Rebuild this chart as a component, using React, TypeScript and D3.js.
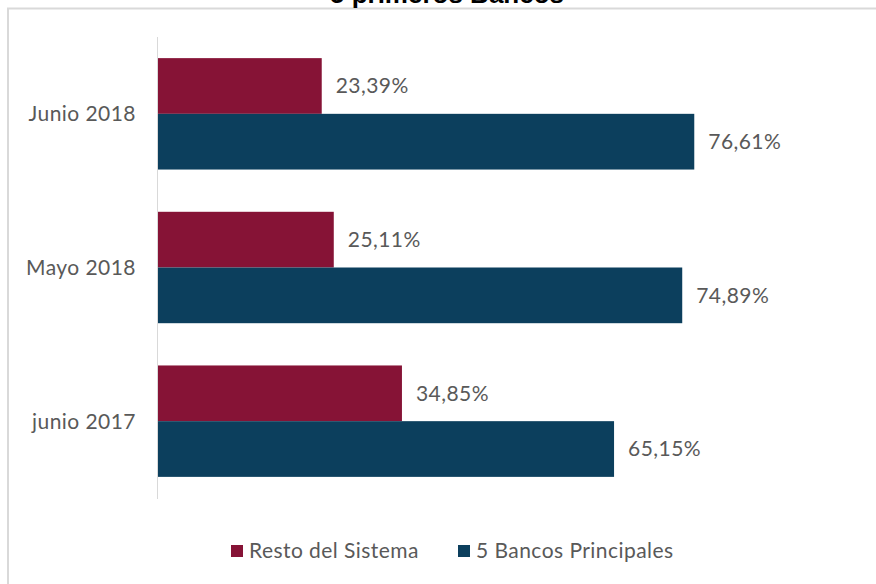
import React, { useEffect, useRef } from 'react';
import * as d3 from 'd3';

const categories = ['Junio 2018', 'Mayo 2018', 'junio 2017'];
const restoValues = [23.39, 25.11, 34.85];
const bancosValues = [76.61, 74.89, 65.15];
const seriesNames = ['Resto del Sistema', '5 Bancos Principales'];
const seriesColors = ['#861336', '#0C3F5D'];

const fmt = (v: number) => v.toFixed(2).replace('.', ',') + '%';

const App: React.FC = () => {
  const chartRef = useRef<SVGSVGElement | null>(null);

  useEffect(() => {
    renderChart();
  }, []);

  const renderChart = () => {
    const width = 876;
    const height = 584;
    const font = 'Lato, "Noto Sans", sans-serif';
    const textColor = '#595959';
    const fontSize = '21px';
    const spacing = '0.45px';

    d3.select(chartRef.current).selectAll('*').remove();
    const svg = d3.select(chartRef.current)
      .attr('width', width)
      .attr('height', height);

    svg.append('rect')
      .attr('width', width)
      .attr('height', height)
      .attr('fill', '#fff');

    // chart border (only top/left visible)
    svg.append('rect')
      .attr('x', 8)
      .attr('y', 8.5)
      .attr('width', 1000)
      .attr('height', 1000)
      .attr('fill', 'none')
      .attr('stroke', '#d9d9d9')
      .attr('stroke-width', 2);

    // title, mostly cut off at the top like in the source image
    svg.append('text')
      .attr('x', 447)
      .attr('y', 3)
      .attr('text-anchor', 'middle')
      .style('font-family', 'Arial, "Liberation Sans", sans-serif')
      .style('font-size', '26px')
      .style('font-weight', 'bold')
      .style('fill', '#000')
      .text('5 primeros Bancos');

    const x = d3.scaleLinear().domain([0, 100]).range([158, 858]);
    const y = d3.scaleBand<string>()
      .domain(categories)
      .range([37, 498])
      .paddingInner(0.275)
      .paddingOuter(0.1375);
    const sub = d3.scaleBand<number>()
      .domain([0, 1])
      .range([0, y.bandwidth()]);

    const g = svg.append('g');

    categories.forEach((cat, i) => {
      const vals = [restoValues[i], bancosValues[i]];
      vals.forEach((v, s) => {
        const y0 = y(cat)! + sub(s)!;
        g.append('rect')
          .attr('x', x(0))
          .attr('y', y0)
          .attr('width', x(v) - x(0))
          .attr('height', sub.bandwidth())
          .attr('fill', seriesColors[s]);

        g.append('text')
          .attr('x', x(v) + 14)
          .attr('y', y0 + sub.bandwidth() / 2)
          .attr('dy', '0.35em')
          .style('font-family', font)
          .style('font-size', fontSize)
          .style('letter-spacing', spacing)
          .style('fill', textColor)
          .text(fmt(v));
      });

      g.append('text')
        .attr('x', 136)
        .attr('y', y(cat)! + y.bandwidth() / 2)
        .attr('dy', '0.35em')
        .attr('text-anchor', 'end')
        .style('font-family', font)
        .style('font-size', fontSize)
        .style('letter-spacing', spacing)
        .style('fill', textColor)
        .text(cat);
    });

    // vertical axis line
    g.append('line')
      .attr('x1', x(0) - 0.5)
      .attr('x2', x(0) - 0.5)
      .attr('y1', 37)
      .attr('y2', 499)
      .attr('stroke', '#d9d9d9')
      .attr('stroke-width', 1);

    // legend
    const legendX = [231, 458];
    const legendY = 551;
    seriesNames.forEach((name, s) => {
      svg.append('rect')
        .attr('x', legendX[s])
        .attr('y', legendY - 6)
        .attr('width', 12)
        .attr('height', 12)
        .attr('fill', seriesColors[s]);
      svg.append('text')
        .attr('x', legendX[s] + 18)
        .attr('y', legendY)
        .attr('dy', '0.35em')
        .style('font-family', font)
        .style('font-size', fontSize)
        .style('letter-spacing', spacing)
        .style('fill', textColor)
        .text(name);
    });
  };

  return (
    <div style={{ position: 'absolute', left: 0, top: 0 }}>
      <svg ref={chartRef} style={{ display: 'block' }}></svg>
    </div>
  );
};

export default App;
